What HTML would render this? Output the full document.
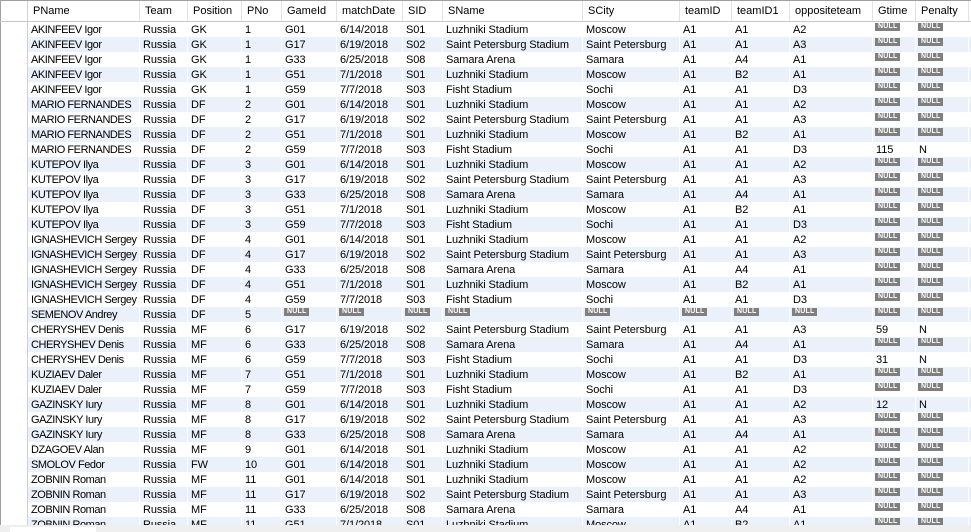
<!DOCTYPE html>
<html><head><meta charset="utf-8"><style>
body{margin:0;width:971px;height:532px;overflow:hidden;background:#fff;font-family:"Liberation Sans",Tahoma,sans-serif;font-size:11px;color:#000;position:relative}
.c{position:absolute;white-space:nowrap;overflow:hidden;height:15px;line-height:16px;padding-left:3px;box-sizing:border-box;border-right:1px solid #fff;letter-spacing:-0.1px}
.c.p{letter-spacing:-0.45px}
.h{position:absolute;top:1px;height:20px;line-height:21px;padding-left:5px;box-sizing:border-box;border-right:1px solid #e3e3e3;white-space:nowrap;overflow:hidden}
.n{display:inline-block;background:#7f7f7f;color:#fff;font-size:7px;font-weight:bold;line-height:8px;height:8px;padding:0 3px;vertical-align:top;margin-top:1px;margin-left:-1px;letter-spacing:0.2px}
</style></head><body>
<div id="g"></div>
<div style="position:absolute;left:0;top:0;width:1px;height:525px;background:#a0a0a0"></div>
<div style="position:absolute;left:0;top:0;width:971px;height:1px;background:#a0a0a0"></div>
<div style="position:absolute;left:1px;top:1px;width:26px;height:524px;border-right:1px solid #d0d0d0;background:#fff"></div>
<div style="position:absolute;left:0;top:21px;width:971px;height:1px;background:#c8c8c8"></div>
<div style="position:absolute;left:0;top:525px;width:971px;height:7px;background:#efefef"></div>
<div style="position:absolute;left:10px;top:527px;width:86px;height:5px;background:#fff"></div>
<script>
const cols=["PName","Team","Position","PNo","GameId","matchDate","SID","SName","SCity","teamID","teamID1","oppositeteam","Gtime","Penalty"];
const xs=[28,140,188,242,282,337,403,443,583,680,732,790,873,916,969];
const G={G01:["6/14/2018","S01","Luzhniki Stadium","Moscow","A1","A1","A2"],G17:["6/19/2018","S02","Saint Petersburg Stadium","Saint Petersburg","A1","A1","A3"],G33:["6/25/2018","S08","Samara Arena","Samara","A1","A4","A1"],G51:["7/1/2018","S01","Luzhniki Stadium","Moscow","A1","B2","A1"],G59:["7/7/2018","S03","Fisht Stadium","Sochi","A1","A1","D3"]};
const players=[["AKINFEEV Igor","GK",1,["G01","G17","G33","G51","G59"]],["MARIO FERNANDES","DF",2,["G01","G17","G51","G59"]],["KUTEPOV Ilya","DF",3,["G01","G17","G33","G51","G59"]],["IGNASHEVICH Sergey","DF",4,["G01","G17","G33","G51","G59"]],["SEMENOV Andrey","DF",5,[null]],["CHERYSHEV Denis","MF",6,["G17","G33","G59"]],["KUZIAEV Daler","MF",7,["G51","G59"]],["GAZINSKY Iury","MF",8,["G01","G17","G33"]],["DZAGOEV Alan","MF",9,["G01"]],["SMOLOV Fedor","FW",10,["G01"]],["ZOBNIN Roman","MF",11,["G01","G17","G33","G51"]]];
const goals={"MARIO FERNANDES|G59":115,"CHERYSHEV Denis|G17":59,"CHERYSHEV Denis|G59":31,"GAZINSKY Iury|G01":12};
const g=document.getElementById('g');
cols.forEach((c,i)=>{const d=document.createElement('div');d.className='h';d.style.left=xs[i]+'px';d.style.width=(xs[i+1]-xs[i])+'px';d.textContent=c;


g.appendChild(d);});
const rows=[];
players.forEach(p=>p[3].forEach(gm=>{const r=[p[0],"Russia",p[1],String(p[2])];if(gm){r.push(gm,...G[gm]);const k=goals[p[0]+'|'+gm];r.push(k?String(k):null,k?"N":null);}else{for(let i=0;i<10;i++)r.push(null);}rows.push(r);}));
rows.forEach((r,ri)=>{const top=22+ri*15;if(top>525)return;
const row=document.createElement('div');row.style.cssText='position:absolute;left:28px;top:'+top+'px;width:943px;height:15px;background:'+(ri%2?'#eaf1fb':'#fff');


g.appendChild(row);
r.forEach((v,ci)=>{const d=document.createElement('div');d.className='c'+(ci===0?' p':'');d.style.left=xs[ci]+'px';d.style.top=top+'px';d.style.width=(xs[ci+1]-xs[ci])+'px';
if(top+15>525)d.style.height=(525-top)+'px';
if(v===null)d.innerHTML='<span class="n">NULL</span>';else d.textContent=v;


g.appendChild(d);});});
</script>
</body></html>
